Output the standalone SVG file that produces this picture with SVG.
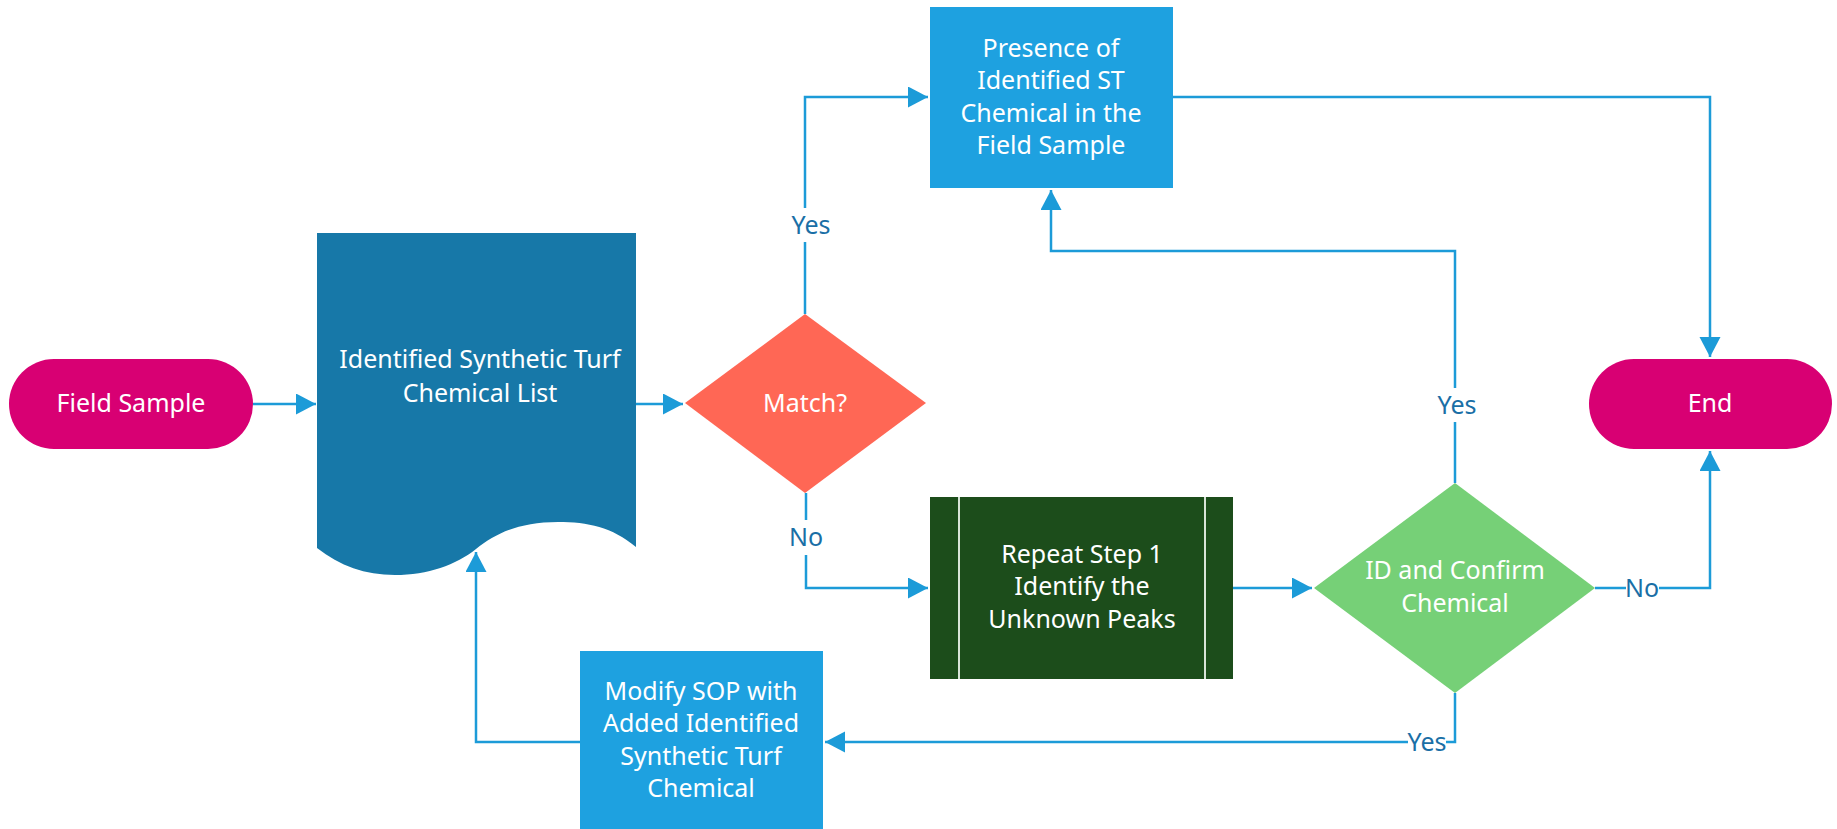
<svg xmlns="http://www.w3.org/2000/svg" width="1837" height="829" viewBox="0 0 1837 829">
<style>
.t{font-family:"Noto Sans","Open Sans","Liberation Sans",sans-serif;font-size:25px;fill:#ffffff;text-anchor:middle}
.lbl{font-family:"Noto Sans","Open Sans","Liberation Sans",sans-serif;font-size:25px;fill:#1a6fa6;text-anchor:middle}
.c{fill:none;stroke:#1c9bd8;stroke-width:2.5}
.bg{fill:#ffffff}
</style>
<defs>
<marker id="ah" markerUnits="userSpaceOnUse" markerWidth="21" markerHeight="22" refX="20" refY="10.5" orient="auto" viewBox="0 0 21 22">
<path d="M0,0 L20,10.5 L0,21 Z" fill="#1c9bd8"/>
</marker>
</defs>
<g id="connectors">
<path class="c" d="M253,404 H316" marker-end="url(#ah)"/>
<path class="c" d="M636,404 H683" marker-end="url(#ah)"/>
<path class="c" d="M805,314 V97 H928" marker-end="url(#ah)"/>
<path class="c" d="M806,493 V588 H928" marker-end="url(#ah)"/>
<path class="c" d="M1233,588 H1312" marker-end="url(#ah)"/>
<path class="c" d="M1455,483 V251 H1051 V190" marker-end="url(#ah)"/>
<path class="c" d="M1595,588 H1710 V451" marker-end="url(#ah)"/>
<path class="c" d="M1455,693 V742 H825" marker-end="url(#ah)"/>
<path class="c" d="M580,742 H476 V552" marker-end="url(#ah)"/>
<path class="c" d="M1173,97 H1710 V357" marker-end="url(#ah)"/>
<rect class="bg" x="790" y="208" width="40" height="34"/>
<text class="lbl" x="811" y="234">Yes</text>
<rect class="bg" x="788" y="520" width="36" height="35"/>
<text class="lbl" x="806" y="546">No</text>
<rect class="bg" x="1437" y="388" width="40" height="34"/>
<text class="lbl" x="1457" y="414">Yes</text>
<rect class="bg" x="1626" y="572" width="33" height="32"/>
<text class="lbl" x="1642" y="597">No</text>
<rect class="bg" x="1408" y="727" width="38" height="30"/>
<text class="lbl" x="1427" y="751">Yes</text>
</g>
<g id="field-sample">
<rect x="9" y="359" width="244" height="90" rx="45" fill="#d80073"/>
<text class="t" x="131" y="412">Field Sample</text>
</g>
<g id="chemical-list">
<path d="M317,233 H636 V547 C612,527 588,522 558,522 C520,522 496,533 476,549 C456,565 428,575 395,575 C365,575 340,566 317,548 Z" fill="#1778a8"/>
<text class="t" x="480" y="368">Identified Synthetic Turf</text>
<text class="t" x="480" y="402">Chemical List</text>
</g>
<g id="match">
<path d="M805,314 L926,403 L805,493 L685,403 Z" fill="#ff6755"/>
<text class="t" x="805" y="412">Match?</text>
</g>
<g id="presence">
<rect x="930" y="7" width="243" height="181" fill="#1ea1e0"/>
<text class="t" x="1051" y="57">Presence of</text>
<text class="t" x="1051" y="89">Identified ST</text>
<text class="t" x="1051" y="122">Chemical in the</text>
<text class="t" x="1051" y="154">Field Sample</text>
</g>
<g id="end">
<rect x="1589" y="359" width="243" height="90" rx="45" fill="#d80073"/>
<text class="t" x="1710" y="412">End</text>
</g>
<g id="repeat">
<rect x="930" y="497" width="303" height="182" fill="#1c4d1b"/>
<line x1="959" y1="497" x2="959" y2="679" stroke="#d8e4d8" stroke-width="2"/>
<line x1="1205" y1="497" x2="1205" y2="679" stroke="#d8e4d8" stroke-width="2"/>
<text class="t" x="1082" y="563">Repeat Step 1</text>
<text class="t" x="1082" y="595">Identify the</text>
<text class="t" x="1082" y="628">Unknown Peaks</text>
</g>
<g id="id-confirm">
<path d="M1455,483 L1595,588 L1455,693 L1314,588 Z" fill="#76d077"/>
<text class="t" x="1455" y="579">ID and Confirm</text>
<text class="t" x="1455" y="612">Chemical</text>
</g>
<g id="modify">
<rect x="580" y="651" width="243" height="180" fill="#1ea1e0"/>
<text class="t" x="701" y="700">Modify SOP with</text>
<text class="t" x="701" y="732">Added Identified</text>
<text class="t" x="701" y="765">Synthetic Turf</text>
<text class="t" x="701" y="797">Chemical</text>
</g>
</svg>
